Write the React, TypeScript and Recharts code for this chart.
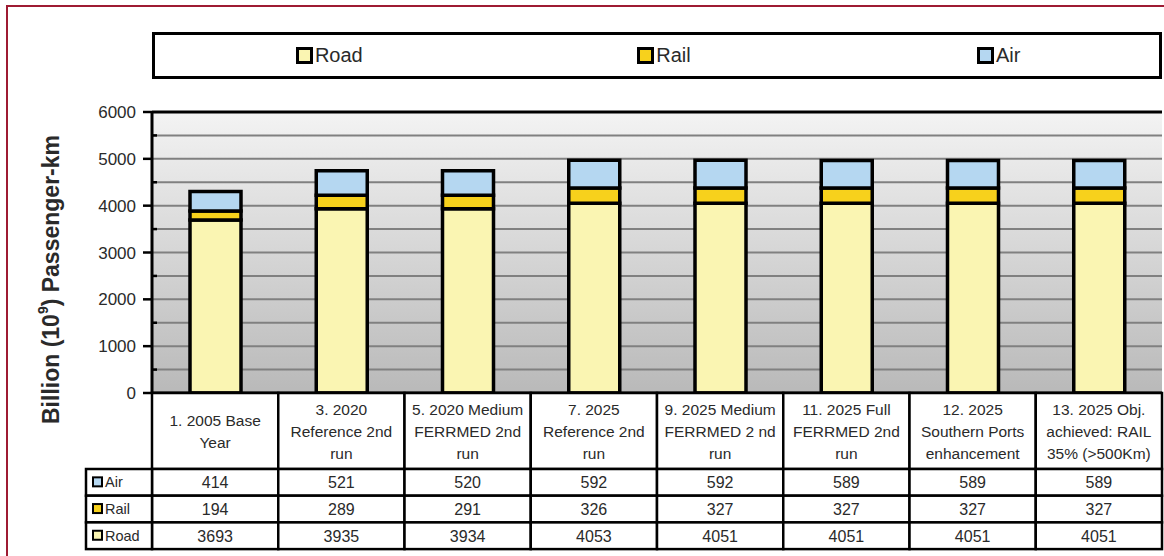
import React from 'react';
import { BarChart, Bar, XAxis, YAxis, CartesianGrid, Legend, ReferenceLine } from 'recharts';

const categories = [
  '1. 2005 Base\nYear',
  '3. 2020\nReference 2nd\nrun',
  '5. 2020 Medium\nFERRMED 2nd\nrun',
  '7. 2025\nReference 2nd\nrun',
  '9. 2025 Medium\nFERRMED 2 nd\nrun',
  '11. 2025 Full\nFERRMED 2nd\nrun',
  '12. 2025\nSouthern Ports\nenhancement',
  '13. 2025 Obj.\nachieved: RAIL\n35% (>500Km)',
];
const road = [3693, 3935, 3934, 4053, 4051, 4051, 4051, 4051];
const rail = [194, 289, 291, 326, 327, 327, 327, 327];
const air = [414, 521, 520, 592, 592, 589, 589, 589];
const yTicks = [0, 500, 1000, 1500, 2000, 2500, 3000, 3500, 4000, 4500, 5000, 5500, 6000];
const seriesNames = ['Road', 'Rail', 'Air'];
const seriesColors = ['#faf5b2', '#f7d11c', '#b5d7f1'];
const yLabel = 'Billion (10';
const yLabelSup = '9';
const yLabelEnd = ') Passenger-km';

const data = categories.map((c, i) => ({ name: c, Road: road[i], Rail: rail[i], Air: air[i] }));

// table rows, top to bottom
const tableRows = [
  { name: 'Air', values: air, color: seriesColors[2] },
  { name: 'Rail', values: rail, color: seriesColors[1] },
  { name: 'Road', values: road, color: seriesColors[0] },
];

const FONT = 'Liberation Sans, Arial, sans-serif';
const TEXT = '#2a2a2a';

const YTick = (props: any) => {
  const { x, y, payload } = props;
  const ax = x + 16;
  const v = payload.value;
  if (v % 1000 === 0) {
    return (
      <g>
        <line x1={ax - 9} x2={ax} y1={y} y2={y} stroke="#000" strokeWidth={2.5} />
        <text x={x} y={y} dy={6} textAnchor="end" fontSize={17} fontFamily={FONT} fill={TEXT}>{v}</text>
      </g>
    );
  }
  return <line x1={ax} x2={ax + 5} y1={y} y2={y} stroke="#000" strokeWidth={2.5} />;
};

const CatTick = (props: any) => {
  const { x, y, payload, width, visibleTicksCount, index } = props;
  const n = visibleTicksCount || categories.length;
  const bw = (typeof width === 'number' && width > 0 ? width : 1010) / n;
  const left = x - bw / 2;
  const headH = 76;
  const rowH = 26.7;
  const lines = String(payload.value).split('\n');
  const midY = y + headH / 2;
  const lh = 22;
  const els: any[] = [];
  els.push(<rect key="h" x={left} y={y} width={bw} height={headH} fill="#fff" stroke="#000" strokeWidth={2.5} />);
  lines.forEach((l, k) => {
    els.push(
      <text key={'l' + k} x={x} y={midY + (k - (lines.length - 1) / 2) * lh} dy={5.5} textAnchor="middle" fontSize={15.5} fontFamily={FONT} fill={TEXT}>{l}</text>
    );
  });
  tableRows.forEach((r, ri) => {
    const ry = y + headH + ri * rowH;
    els.push(<rect key={'r' + ri} x={left} y={ry} width={bw} height={rowH} fill="#fff" stroke="#000" strokeWidth={2.5} />);
    els.push(
      <text key={'t' + ri} x={x} y={ry + rowH / 2} dy={6} textAnchor="middle" fontSize={16} fontFamily={FONT} fill={TEXT}>{r.values[index]}</text>
    );
    if (index === 0) {
      const lw = 66;
      els.push(<rect key={'lr' + ri} x={left - lw} y={ry} width={lw} height={rowH} fill="#fff" stroke="#000" strokeWidth={2.5} />);
      els.push(<rect key={'lm' + ri} x={left - lw + 7} y={ry + rowH / 2 - 5} width={9} height={9} fill={r.color} stroke="#000" strokeWidth={2} />);
      els.push(
        <text key={'lt' + ri} x={left - lw + 19} y={ry + rowH / 2} dy={5} fontSize={14.5} fontFamily={FONT} fill={TEXT}>{r.name}</text>
      );
    }
  });
  return <g>{els}</g>;
};

const renderYLabel = (props: any) => {
  const vb = props.viewBox || { x: 92, y: 112, width: 60, height: 281 };
  const cx = vb.x - 41;
  const cy = vb.y + vb.height / 2 + 27;
  return (
    <text x={cx} y={cy} transform={`rotate(-90 ${cx} ${cy})`} textAnchor="middle" dominantBaseline="central" fontSize={23} fontWeight="bold" fontFamily={FONT} fill={TEXT}>
      {yLabel}
      <tspan dy={-8} fontSize={14}>{yLabelSup}</tspan>
      <tspan dy={8}>{yLabelEnd}</tspan>
    </text>
  );
};

const renderLegend = (props: any) => {
  const payload = (props.payload || []).slice();
  payload.sort((a: any, b: any) => seriesNames.indexOf(a.value) - seriesNames.indexOf(b.value));
  return (
    <div style={{ boxSizing: 'border-box', width: 1010, height: 47, border: '3px solid #000', background: '#fff', display: 'flex', alignItems: 'center' }}>
      {payload.map((p: any) => (
        <div key={p.value} style={{ flex: 1, display: 'flex', justifyContent: 'center', alignItems: 'center', paddingLeft: 14 }}>
          <span style={{ display: 'inline-block', width: 11, height: 11, border: '3px solid #000', background: p.color, marginRight: 2 }} />
          <span style={{ fontFamily: FONT, fontSize: 20, color: TEXT }}>{p.value}</span>
        </div>
      ))}
    </div>
  );
};

export default function App() {
  return (
    <div style={{ position: 'absolute', left: 0, top: 0, width: 1164, height: 556, background: '#fff', overflow: 'hidden' }}>
      <div style={{ position: 'absolute', left: 6, top: 5, width: 1200, height: 600, borderTop: '2.5px solid #9e1b32', borderLeft: '2.5px solid #9e1b32' }} />
      <BarChart width={1164} height={556} data={data} margin={{ top: 112, right: 2, bottom: 8, left: 92 }} style={{ position: 'absolute', left: 0, top: 0 }}>
        <defs>
          <linearGradient id="plotBg" x1="0" y1="0" x2="0" y2="1">
            <stop offset="0%" stopColor="#f3f3f3" />
            <stop offset="100%" stopColor="#b9b9b9" />
          </linearGradient>
        </defs>
        <CartesianGrid vertical={false} fill="url(#plotBg)" stroke="#808080" strokeWidth={2} />
        <XAxis dataKey="name" height={155} interval={0} tickLine={false} tickSize={0} tickMargin={0} axisLine={{ stroke: '#000', strokeWidth: 3 }} tick={<CatTick />} />
        <YAxis domain={[0, 6000]} ticks={yTicks} interval={0} width={60} tickSize={8} tickMargin={8} tickLine={false} axisLine={{ stroke: '#000', strokeWidth: 3 }} tick={<YTick />} label={renderYLabel} />
        <YAxis yAxisId="right" orientation="right" width={0} tick={false} tickLine={false} axisLine={{ stroke: '#000', strokeWidth: 3 }} />
        <ReferenceLine y={6000} stroke="#000" strokeWidth={3} />
        <Legend verticalAlign="middle" layout="horizontal" content={renderLegend} wrapperStyle={{ position: 'absolute', top: 32, left: 152, width: 1010, height: 47 }} />
        <Bar dataKey="Road" name="Road" stackId="s" fill={seriesColors[0]} stroke="#000" strokeWidth={3.5} barSize={51} isAnimationActive={false} />
        <Bar dataKey="Rail" name="Rail" stackId="s" fill={seriesColors[1]} stroke="#000" strokeWidth={3.5} barSize={51} isAnimationActive={false} />
        <Bar dataKey="Air" name="Air" stackId="s" fill={seriesColors[2]} stroke="#000" strokeWidth={3.5} barSize={51} isAnimationActive={false} />
      </BarChart>
    </div>
  );
}
